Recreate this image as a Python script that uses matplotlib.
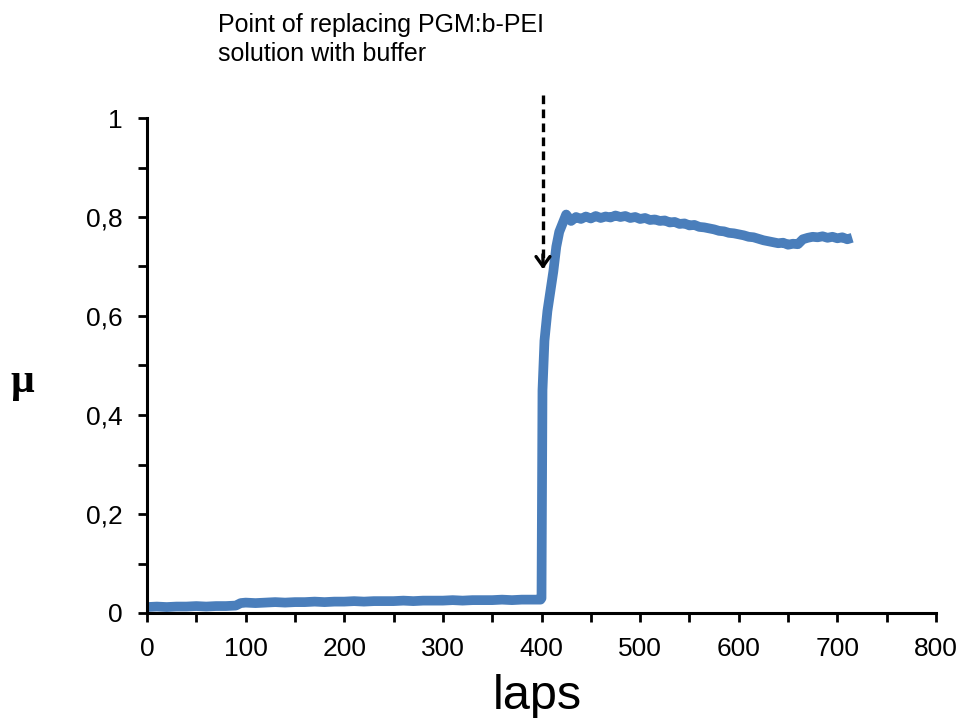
import matplotlib
matplotlib.use("Agg")
import matplotlib.pyplot as plt
from matplotlib.ticker import MultipleLocator, FuncFormatter

laps = [0, 10, 20, 30, 40, 50, 60, 70, 80, 90, 95, 100, 110, 120, 130, 140, 150,
        160, 170, 180, 190, 200, 210, 220, 230, 240, 250, 260, 270, 280, 290, 300,
        310, 320, 330, 340, 350, 360, 370, 380, 390, 399, 400, 401, 403, 406, 409,
        412, 415, 418, 421,
        425, 430, 435, 440, 445, 450, 455, 460, 465, 470, 475, 480, 485, 490, 495,
        500, 505, 510, 515, 520, 525, 530, 535, 540, 545, 550, 555, 560, 565, 570,
        575, 580, 585, 590, 595, 600, 605, 610, 615, 620, 625, 630, 635, 640, 645,
        650, 655, 660, 665, 670, 675, 680, 685, 690, 695, 700, 705, 710, 715]
mu = [0.012, 0.013, 0.012, 0.013, 0.013, 0.014, 0.013, 0.014, 0.014, 0.015, 0.020,
      0.021, 0.020, 0.021, 0.022, 0.021, 0.022, 0.022, 0.023, 0.022, 0.023, 0.023,
      0.024, 0.023, 0.024, 0.024, 0.024, 0.025, 0.024, 0.025, 0.025, 0.025, 0.026,
      0.025, 0.026, 0.026, 0.026, 0.027, 0.026, 0.027, 0.027, 0.027, 0.030, 0.45,
      0.55, 0.61, 0.65, 0.69, 0.74, 0.77, 0.785,
      0.805, 0.792, 0.800, 0.796, 0.801, 0.797, 0.802, 0.798, 0.801, 0.799, 0.803,
      0.800, 0.802, 0.798, 0.800, 0.796, 0.798, 0.794, 0.795, 0.792, 0.793, 0.789,
      0.790, 0.786, 0.787, 0.783, 0.784, 0.780, 0.779, 0.777, 0.775, 0.772, 0.771,
      0.768, 0.767, 0.765, 0.763, 0.760, 0.759, 0.756, 0.753, 0.751, 0.749, 0.747,
      0.748, 0.744, 0.746, 0.745, 0.755, 0.758, 0.760, 0.759, 0.761, 0.758, 0.760,
      0.757, 0.759, 0.755, 0.758]

x_ticks = [0, 100, 200, 300, 400, 500, 600, 700, 800]
y_ticks = [0, 0.2, 0.4, 0.6, 0.8, 1.0]
annotation = "Point of replacing PGM:b-PEI\nsolution with buffer"

plt.rcParams['font.family'] = ['Liberation Sans', 'DejaVu Sans']

fig = plt.figure(figsize=(9.61, 7.18), dpi=100)
ax = fig.add_axes([147/961, 1-613/718, (936-147)/961, (613-118)/718])

ax.plot(laps, mu, color='#4a7ebb', lw=7, solid_joinstyle='round', solid_capstyle='butt', zorder=2)

ax.set_xlim(0, 800)
ax.set_ylim(0, 1)
ax.set_xticks(x_ticks)
ax.set_yticks(y_ticks)
ax.xaxis.set_minor_locator(MultipleLocator(50))
ax.yaxis.set_minor_locator(MultipleLocator(0.1))
ax.yaxis.set_major_formatter(FuncFormatter(lambda v, p: ('%g' % round(v, 1)).replace('.', ',')))
for s in ['top', 'right']:
    ax.spines[s].set_visible(False)
for s in ['left', 'bottom']:
    ax.spines[s].set_linewidth(2.2)
    ax.spines[s].set_zorder(3)
ax.tick_params(which='both', direction='out', length=6.5, width=2, labelsize=19)
ax.tick_params(axis='y', pad=11)
ax.tick_params(axis='x', pad=11)

fig.text(537/961, 1-709/718, 'laps', fontsize=35, ha='center', va='baseline')
fig.text(22/961, 1-382/718, 'μ', fontsize=30, fontweight='bold', ha='center', va='center',
         family=['Liberation Serif', 'DejaVu Serif'])

# dashed arrow
ax.plot([401.5, 401.5], [1.046, 0.70], ls=(0, (2.6, 1.6)), color='black', lw=2.4, clip_on=False)
ax.annotate('', xy=(401.5, 0.689), xytext=(401.5, 0.73),
            arrowprops=dict(arrowstyle='->,head_length=0.7,head_width=0.5', color='black', lw=2.4),
            annotation_clip=False)

fig.text(218/961, 1-13/718, annotation, fontsize=18, ha='left', va='top', linespacing=1.27)

fig.savefig('out.png', dpi=100)
